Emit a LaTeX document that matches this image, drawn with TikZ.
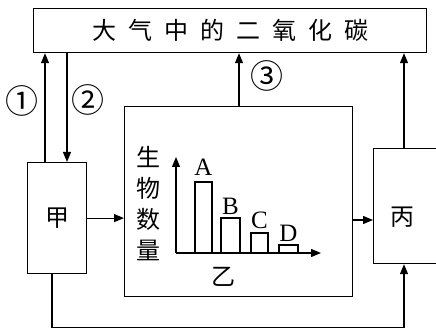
\documentclass[tikz,border=0pt]{standalone}
\usepackage{fontspec}
\setmainfont{Liberation Serif}
\newfontfamily\cjk{Noto Sans CJK SC}
\usetikzlibrary{arrows.meta,calc}
\begin{document}
\begin{tikzpicture}[x=1pt,y=-1pt,line width=1.2pt,
  box/.style={draw,rectangle,inner sep=0pt,anchor=north west},
  arr/.style={-{Triangle[length=10pt,width=8pt]}},
  cj/.style={font=\cjk\fontsize{24}{24}\selectfont},
  circ/.style={font=\cjk\fontsize{33}{33}\selectfont,inner sep=0pt},
  lbl/.style={font=\fontsize{25}{25}\selectfont,inner sep=0pt,anchor=south},
]
\useasboundingbox (0,0) rectangle (436,331);
\clip (0,0) rectangle (436,331);
% boxes
\node[box,minimum width=393pt,minimum height=44pt] (top) at (33,8) {};
\node[cj] (toptext) at (top.center) {大\hspace{12pt}气\hspace{12pt}中\hspace{12pt}的\hspace{12pt}二\hspace{12pt}氧\hspace{12pt}化\hspace{12pt}碳};
\node[box,minimum width=59pt,minimum height=111pt] (jia) at (27,162) {};
\node[cj] (jiat) at (jia.center) {甲};
\node[box,minimum width=228pt,minimum height=190pt] (yi) at (124,106) {};
\node[box,minimum width=70pt,minimum height=115pt] (bing) at (373,148) {};
\node[cj] (bingt) at (402,217) {丙};
\coordinate (ye) at (352,220);
\coordinate (bw) at (373,220);
% connectors
\draw[arr] ([xshift=18pt]jia.north west) -- ([xshift=18pt]jia.north west |- top.south);
\draw[arr] ([xshift=40pt]jia.north west |- top.south) -- ([xshift=40pt]jia.north west);
\draw[arr] ([xshift=115pt]yi.north west) -- ([xshift=115pt]yi.north west |- top.south);
\draw[arr] ([xshift=31pt]bing.north west) -- ([xshift=31pt]bing.north west |- top.south);
\draw[arr] (jia.east) -- (jia.east -| yi.west);
\draw[arr] (ye) -- (bw);
\draw[arr] ([xshift=25pt]jia.south west) -- ++(0,53) -| ([xshift=31pt]bing.south west);
% circled numbers
\node[circ] (n1) at (22,101) {①};
\node[circ] (n2) at (88,100) {②};
\node[circ] (n3) at (267,76) {③};
% chart
\coordinate (o) at (176,253);
\draw[arr] (o) -- (176,157);
\draw[arr] (o) -- (321,253);
\draw (195,253) rectangle (212,182);
\draw (221,253) rectangle (240,218);
\draw (251,253) rectangle (268,233);
\draw (279,253) rectangle (298,245);
\node[lbl] (la) at (203.5,176) {A};
\node[lbl] (lb) at (230.5,215) {B};
\node[lbl] (lc) at (259.5,229) {C};
\node[lbl] (ld) at (288.5,242) {D};
\node[cj,align=center,font=\cjk\fontsize{24}{31}\selectfont] (ylab) at (148,204) {生\\物\\数\\量};
\node[cj] (yit) at (223,277) {乙};
\end{tikzpicture}
\end{document}
